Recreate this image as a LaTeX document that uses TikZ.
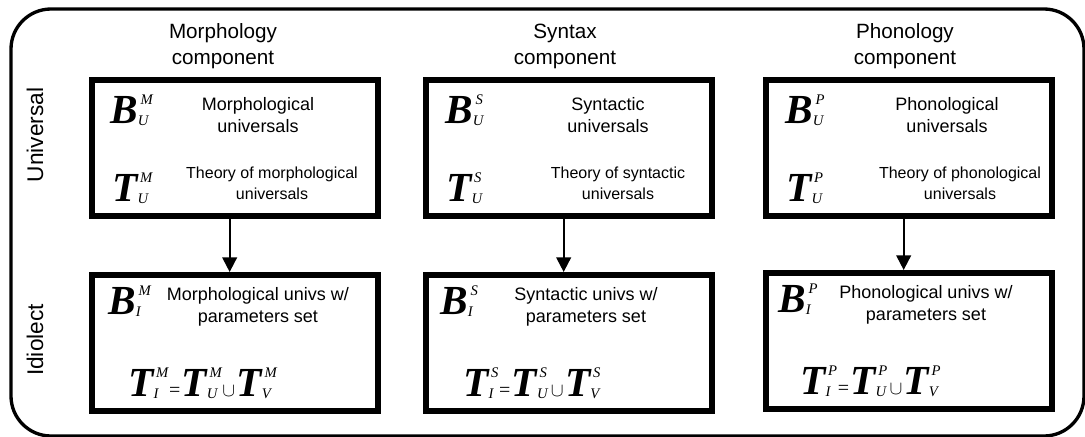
\documentclass[tikz,border=0pt]{standalone}
\usepackage{fontspec}
\setmainfont{Liberation Sans}
\newfontfamily\tnr{Liberation Serif}
\usetikzlibrary{arrows.meta}

\newsavebox\supbox
\newsavebox\subbox
\newcommand\symfont{\fontsize{31}{31}\tnr\bfseries\itshape}
\newcommand\scrfont{\fontsize{11}{11}\tnr\itshape}
\newcommand\opfont{\fontsize{15}{15}\tnr}
\newcommand\bigsym[3]{{\symfont #1}\sbox\supbox{\scrfont #2}\sbox\subbox{\scrfont #3}\rlap{\kern2pt\raisebox{14pt}{\usebox\supbox}}\rlap{\kern0pt\raisebox{-1.5pt}{\usebox\subbox}}\ifdim\wd\supbox>\wd\subbox\hspace*{\wd\supbox}\else\hspace*{\wd\subbox}\fi\kern1.5pt}
\newcommand\formula[1]{\bigsym{T}{#1}{I}{\opfont\kern1pt=\kern1pt}\bigsym{T}{#1}{U}{\opfont\kern1pt$\cup$\kern1pt}\bigsym{T}{#1}{V}}

\begin{document}
\begin{tikzpicture}[x=0.75pt,y=-0.75pt,
  box/.style={draw,line width=4.5pt,minimum width=214.5pt,minimum height=102pt,inner sep=0pt},
  arr/.style={line width=1.5pt,-{Triangle[width=11pt,length=11pt]}},
  head/.style={align=center,inner sep=0pt,font=\fontsize{15.5}{19.5}\selectfont},
  lab/.style={align=center,inner sep=0pt,font=\fontsize{13.5}{17}\selectfont},
  thy/.style={align=center,inner sep=0pt,font=\fontsize{12}{15.5}\selectfont},
  side/.style={rotate=90,inner sep=0pt,font=\fontsize{17}{20}\selectfont},
  sym/.style={anchor=base west,inner sep=0pt}]
\useasboundingbox (0,0) rectangle (1085,436);
\draw[line width=2.5pt,rounded corners=30pt] (11,9) rectangle (1084,436);

% boxes
\node[box] (mt) at (235,148) {};
\node[box] (mb) at (235,343) {};
\node[box] (st) at (569,148) {};
\node[box] (sb) at (569,343) {};
\node[box] (pt) at (909,148) {};
\node[box] (pb) at (909,341) {};

% arrows
\draw[arr] ([xshift=-4pt]mt.south) -- ([xshift=-4pt]mb.north);
\draw[arr] ([xshift=-4pt]st.south) -- ([xshift=-4pt]sb.north);
\draw[arr] ([xshift=-4pt]pt.south) -- ([xshift=-4pt]pb.north);

% headings
\node[head] (hm) at (223,46) {Morphology\\component};
\node[head] (hs) at (565,46) {Syntax\\component};
\node[head] (hp) at (905,46) {Phonology\\component};

% side labels
\node[side] (su) at (35,135) {Universal};
\node[side] (si) at (35,340) {Idiolect};

% morphology
\node[sym] (bmu) at (110,123) {\bigsym{B}{M}{U}};
\node[sym] (tmu) at (112,201) {\bigsym{T}{M}{U}};
\node[lab] (lmu) at (258,115) {Morphological\\universals};
\node[thy] (tmu2) at (272,183) {Theory of morphological\\universals};
\node[sym] (bmi) at (108,314) {\bigsym{B}{M}{I}};
\node[lab] (lmi) at (258,307) {Morphological univs w/\\parameters set};
\node[sym] (fm) at (128,396) {\formula{M}};

% syntax
\node[sym] (bsu) at (445,123) {\bigsym{B}{S}{U}};
\node[sym] (tsu) at (446,201) {\bigsym{T}{S}{U}};
\node[lab] (lsu) at (608,115) {Syntactic\\universals};
\node[thy] (tsu2) at (618,183) {Theory of syntactic\\universals};
\node[sym] (bsi) at (440,314) {\bigsym{B}{S}{I}};
\node[lab] (lsi) at (586,307) {Syntactic univs w/\\parameters set};
\node[sym] (fs) at (463,396) {\formula{S}};

% phonology
\node[sym] (bpu) at (785,123) {\bigsym{B}{P}{U}};
\node[sym] (tpu) at (786,201) {\bigsym{T}{P}{U}};
\node[lab] (lpu) at (947,115) {Phonological\\universals};
\node[thy] (tpu2) at (960,183) {Theory of phonological\\universals};
\node[sym] (bpi) at (778,312) {\bigsym{B}{P}{I}};
\node[lab] (lpi) at (926,305) {Phonological univs w/\\parameters set};
\node[sym] (fp) at (800,394) {\formula{P}};
\end{tikzpicture}
\end{document}
